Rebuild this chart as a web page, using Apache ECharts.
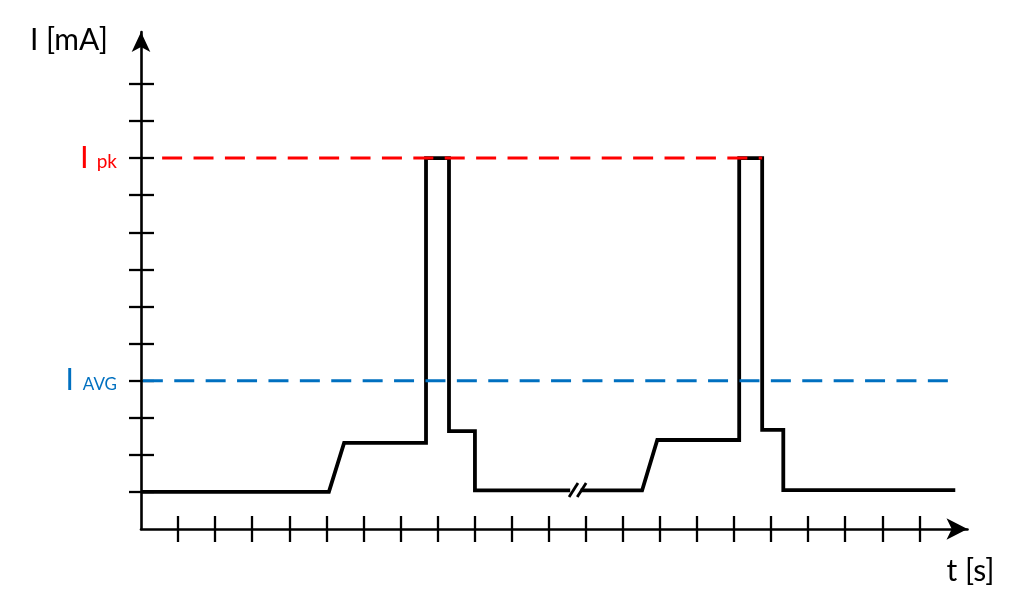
<!DOCTYPE html>
<html>
<head>
<meta charset="utf-8">
<script src="https://cdn.jsdelivr.net/npm/echarts@6/dist/echarts.min.js"></script>
<style>
html,body{margin:0;padding:0;background:#fff;}
#c{width:1024px;height:616px;}
</style>
</head>
<body>
<div id="c"></div>
<script>
// Axis ranges (schematic units)
const xMax = 22.3;
const yMax = 13.4;
// Tick positions
const xTicks = [1,2,3,4,5,6,7,8,9,10,11,12,13,14,15,16,17,18,19,20,21];
const yTicks = [1,2,3,4,5,6,7,8,9,10,11,12];
// Labelled levels
const levelPk = 10;
const levelAvg = 4;
// Waveform before the break
const wave1 = [[0,1.0],[5.07,1.0],[5.48,2.32],[7.69,2.32],[7.69,10],[8.31,10],[8.31,2.64],[9.01,2.64],[9.01,1.04],[11.58,1.04]];
// Waveform after the break
const wave2 = [[11.86,1.04],[13.52,1.04],[13.93,2.4],[16.14,2.4],[16.14,10],[16.76,10],[16.76,2.67],[17.33,2.67],[17.33,1.05],[21.97,1.05]];
// Break marks "//"
const slash1 = [[11.55,0.86],[11.79,1.24]];
const slash2 = [[11.77,0.86],[12.01,1.24]];
// Reference level lines
const pkLine = [[0.57,levelPk],[16.76,levelPk]];
const avgLine = [[0.05,levelAvg],[21.8,levelAvg]];

const RED = '#ff0000', BLUE = '#0070c0', FONT = 'Lato';
const chart = echarts.init(document.getElementById('c'), null, {renderer:'canvas'});
const lineSeries = (name, data, color, width, z, dash) => ({
  name, type:'line', data, xAxisIndex:0, yAxisIndex:0, symbol:'none', silent:true, animation:false, z,
  lineStyle:{color, width, type: dash || 'solid', join:'miter', cap:'butt'}
});
chart.setOption({
  animation:false,
  backgroundColor:'#fff',
  grid:{left:141, top:32, right:56.5, bottom:87, containLabel:false, outerBoundsMode:'none'},
  xAxis:[{
    type:'value', min:0, max:xMax, position:'bottom',
    name:'t [s]', nameLocation:'end', nameGap:3,
    nameTextStyle:{fontFamily:FONT, fontSize:30, color:'#000', align:'center', verticalAlign:'top', padding:[27,0,0,0]},
    axisLine:{show:true, onZero:false, symbol:['none','arrow'], symbolSize:[16,21], lineStyle:{color:'#000', width:2.6}},
    axisTick:{show:true, inside:false, length:13, customValues:xTicks, lineStyle:{color:'#000', width:2.3}},
    axisLabel:{show:false}, splitLine:{show:false}
  },{
    type:'value', min:0, max:xMax, position:'bottom',
    axisLine:{show:false},
    axisTick:{show:true, inside:true, length:13, customValues:xTicks, lineStyle:{color:'#000', width:2.3}},
    axisLabel:{show:false}, splitLine:{show:false}
  }],
  yAxis:[{
    type:'value', min:0, max:yMax, position:'left',
    name:'I [mA]', nameLocation:'end', nameGap:-8,
    nameTextStyle:{fontFamily:FONT, fontSize:30, color:'#000', align:'right', verticalAlign:'middle', padding:[0,33,0,0]},
    axisLine:{show:true, onZero:false, symbol:['none','arrow'], symbolSize:[14,20], lineStyle:{color:'#000', width:2.6}},
    axisTick:{show:true, inside:false, length:12, customValues:yTicks, lineStyle:{color:'#000', width:2.3}},
    axisLabel:{show:true, margin:24, customValues:[levelAvg, levelPk],
      formatter:v => v === levelPk ? '{pI|I}{pS|pk}' : '{aI|I}{aS|AVG}',
      rich:{
        pI:{fontFamily:FONT, fontSize:31, color:RED, padding:[0,8,0,0]},
        pS:{fontFamily:FONT, fontSize:19, color:RED, verticalAlign:'middle', padding:[7,0,0,0]},
        aI:{fontFamily:FONT, fontSize:30, color:BLUE, padding:[0,9,0,0]},
        aS:{fontFamily:FONT, fontSize:17, color:BLUE, verticalAlign:'middle', padding:[7,0,0,0]}
      }},
    splitLine:{show:false}
  },{
    type:'value', min:0, max:yMax, position:'left',
    axisLine:{show:false},
    axisTick:{show:true, inside:true, length:13, customValues:yTicks, lineStyle:{color:'#000', width:2.3}},
    axisLabel:{show:false}, splitLine:{show:false}
  }],
  series:[
    lineSeries('wave1', wave1, '#000', 3.8, 2),
    lineSeries('wave2', wave2, '#000', 3.8, 2),
    lineSeries('slash1', slash1, '#000', 2.8, 2),
    lineSeries('slash2', slash2, '#000', 2.8, 2),
    lineSeries('pk', pkLine, RED, 3, 3, [20,11.4]),
    lineSeries('avg', avgLine, BLUE, 3, 3, [20,11.4])
  ]
});
</script>
</body>
</html>
